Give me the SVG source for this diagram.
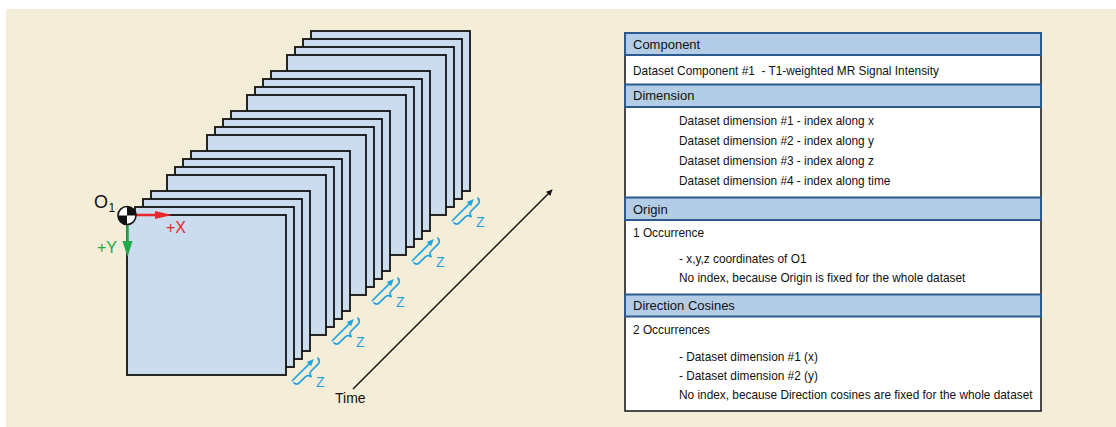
<svg xmlns="http://www.w3.org/2000/svg" width="1116" height="427" viewBox="0 0 1116 427">
<defs>
<style>
.slice{fill:#cbdcef;stroke:#111;stroke-width:1.8}
.hdr{fill:#b3cde6;stroke:#2b5a8e;stroke-width:2}
.ht{font-family:"Liberation Sans",Arial,sans-serif;font-size:13px;fill:#111}
.bt{font-family:"Liberation Sans",Arial,sans-serif;font-size:11.85px;fill:#111;white-space:pre}
.cy{fill:none;stroke:#1fa3e3;stroke-width:1.7}
.zt{font-family:"Liberation Sans",Arial,sans-serif;font-size:14px;fill:#1fa3e3}
.lbl{font-family:"Liberation Sans",Arial,sans-serif}
</style>
<marker id="ah" viewBox="0 0 10 10" refX="9" refY="5" markerWidth="7" markerHeight="6" orient="auto" markerUnits="userSpaceOnUse">
<path d="M0,0 L10,5 L0,10 z" fill="#111"/>
</marker>
<g id="brace">
<line x1="0" y1="0" x2="25" y2="0" class="cy"/>
<path d="M24,-3 L31,0 L24,3 z" fill="#1fa3e3"/>
<path d="M0,2 Q0,6.5 4.5,6.5 L12,6.5 Q16,6.5 16.5,11 Q17,6.5 21,6.5 L30,6.5 Q34.5,6.5 34.5,1.5" class="cy"/>
</g>
</defs>
<rect x="6" y="9" width="1110" height="418" fill="#f4edd7"/>

<g id="slices">
<rect class="slice" x="311" y="31" width="159" height="160"/>
<rect class="slice" x="303" y="39" width="159" height="160"/>
<rect class="slice" x="295" y="47" width="159" height="160"/>
<rect class="slice" x="287" y="55" width="159" height="160"/>
<rect class="slice" x="271" y="71" width="159" height="160"/>
<rect class="slice" x="263" y="79" width="159" height="160"/>
<rect class="slice" x="255" y="87" width="159" height="160"/>
<rect class="slice" x="247" y="95" width="159" height="160"/>
<rect class="slice" x="231" y="111" width="159" height="160"/>
<rect class="slice" x="223" y="119" width="159" height="160"/>
<rect class="slice" x="215" y="127" width="159" height="160"/>
<rect class="slice" x="207" y="135" width="159" height="160"/>
<rect class="slice" x="191" y="151" width="159" height="160"/>
<rect class="slice" x="183" y="159" width="159" height="160"/>
<rect class="slice" x="175" y="167" width="159" height="160"/>
<rect class="slice" x="167" y="175" width="159" height="160"/>
<rect class="slice" x="151" y="191" width="159" height="160"/>
<rect class="slice" x="143" y="199" width="159" height="160"/>
<rect class="slice" x="135" y="207" width="159" height="160"/>
<rect class="slice" x="127" y="215" width="159" height="160"/>
</g>

<g id="z-markers">
<use href="#brace" transform="translate(292,381) rotate(-45)"/>
<use href="#brace" transform="translate(332,341) rotate(-45)"/>
<use href="#brace" transform="translate(372,301) rotate(-45)"/>
<use href="#brace" transform="translate(412,261) rotate(-45)"/>
<use href="#brace" transform="translate(452,221) rotate(-45)"/>
<text class="zt" x="316" y="387">Z</text>
<text class="zt" x="356" y="347">Z</text>
<text class="zt" x="396" y="307">Z</text>
<text class="zt" x="436" y="267">Z</text>
<text class="zt" x="476" y="227">Z</text>
</g>

<g id="connectors">
<line x1="353" y1="389" x2="552" y2="190" stroke="#111" stroke-width="1.4" marker-end="url(#ah)"/>
<line x1="135" y1="215" x2="157" y2="215" stroke="#e8262b" stroke-width="2.5"/>
<path d="M155,211 L172,215 L155,219 z" fill="#e8262b"/>
<line x1="127.5" y1="224" x2="127.5" y2="243" stroke="#1fa84a" stroke-width="2.5"/>
<path d="M122.5,241 L127.5,257 L132.5,241 z" fill="#1fa84a"/>
</g>

<g id="origin">
<circle cx="127" cy="215.5" r="9" fill="#fff" stroke="#111" stroke-width="1.6"/>
<path d="M127,215.5 L127,206.5 A9,9 0 0 1 136,215.5 z" fill="#111"/>
<path d="M127,215.5 L127,224.5 A9,9 0 0 1 118,215.5 z" fill="#111"/>
<text class="lbl" x="94" y="208" font-size="18" fill="#111">O</text>
<text class="lbl" x="108.5" y="212" font-size="12" fill="#111">1</text>
<text class="lbl" x="166" y="233" font-size="16" fill="#e8262b">+X</text>
<text class="lbl" x="97" y="253" font-size="16" fill="#1fa84a">+Y</text>
<text class="lbl" x="335" y="403" font-size="14" fill="#111">Time</text>
</g>

<g id="table">
<rect x="625" y="33" width="416" height="378" fill="#fff" stroke="#111" stroke-width="1.5"/>
<g id="component">
<rect class="hdr" x="625" y="33" width="416" height="22"/>
<text class="ht" x="633" y="49">Component</text>
<text class="bt" x="633" y="75">Dataset Component #1  - T1-weighted MR Signal Intensity</text>
</g>
<g id="dimension">
<rect class="hdr" x="625" y="84.5" width="416" height="22.5"/>
<text class="ht" x="633" y="100">Dimension</text>
<text class="bt" x="679" y="125">Dataset dimension #1 - index along x</text>
<text class="bt" x="679" y="145">Dataset dimension #2 - index along y</text>
<text class="bt" x="679" y="165">Dataset dimension #3 - index along z</text>
<text class="bt" x="679" y="185">Dataset dimension #4 - index along time</text>
</g>
<g id="origin-section">
<rect class="hdr" x="625" y="197.5" width="416" height="22.5"/>
<text class="ht" x="633" y="214">Origin</text>
<text class="bt" x="633" y="237">1 Occurrence</text>
<text class="bt" x="679" y="262.5">- x,y,z coordinates of O1</text>
<text class="bt" x="679" y="282">No index, because Origin is fixed for the whole dataset</text>
</g>
<g id="direction-cosines">
<rect class="hdr" x="625" y="294.5" width="416" height="22"/>
<text class="ht" x="633" y="310">Direction Cosines</text>
<text class="bt" x="633" y="334">2 Occurrences</text>
<text class="bt" x="679" y="360.5">- Dataset dimension #1 (x)</text>
<text class="bt" x="679" y="380">- Dataset dimension #2 (y)</text>
<text class="bt" x="679" y="399">No index, because Direction cosines are fixed for the whole dataset</text>
</g>
</g>
</svg>
